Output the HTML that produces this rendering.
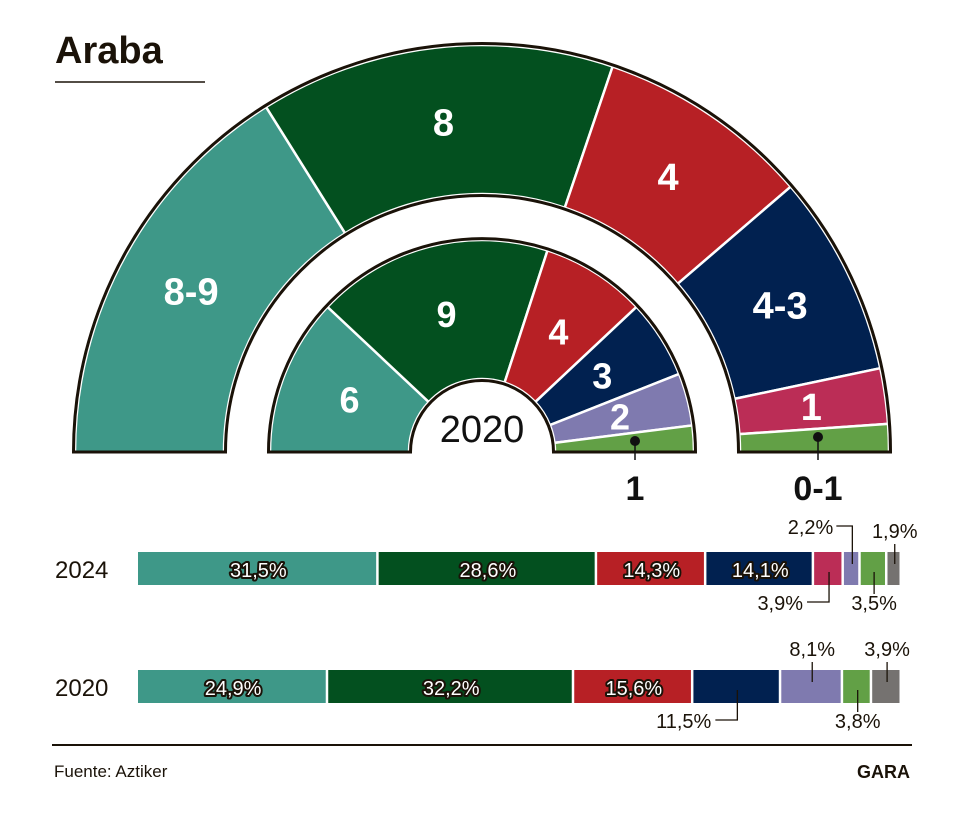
<!DOCTYPE html>
<html><head><meta charset="utf-8"><style>
body{margin:0;background:#fff;font-family:"Liberation Sans",sans-serif}
svg{display:block}
</style></head><body>
<svg id="c" width="971" height="824" viewBox="0 0 971 824">
<text x="55" y="63" font-size="38" font-weight="bold" fill="#1a1208">Araba</text>
<line x1="55" y1="82" x2="205" y2="82" stroke="#1a1208" stroke-width="1.5"/>
<g id="arcs"></g>
<g id="bars"></g>
<line x1="52" y1="745" x2="912" y2="745" stroke="#1a1208" stroke-width="2"/>
<text x="54" y="777" font-size="17" fill="#1a1208">Fuente: Aztiker</text>
<text x="910" y="778" font-size="18" font-weight="bold" text-anchor="end" fill="#1a1208">GARA</text>
</svg>
<script>
const colors=["#3e9888","#03501f","#b72025","#012150","#bb2d56","#7f7aaf","#62a046","#757270"];
const outerColors=["#3e9888","#03501f","#b72025","#012150","#bb2d56","#62a046"];
const innerColors=["#3e9888","#03501f","#b72025","#012150","#7f7aaf","#62a046"];
const outerLabels=["8-9","8","4","4-3","1",""];
const outerWeights=[8.05,7.05,4.25,4.0,1.1,0.55];
const innerLabels=["6","9","4","3","2",""];
const innerWeights=[6,9,4,3,2,1];
const years=["2024","2020"];
const pct2024=[31.5,28.6,14.3,14.1,3.9,2.2,3.5,1.9];
const pct2020=[24.9,32.2,15.6,11.5,0,8.1,3.8,3.9];
const lbl2024=["31,5%","28,6%","14,3%","14,1%","3,9%","2,2%","3,5%","1,9%"];
const lbl2020=["24,9%","32,2%","15,6%","11,5%","","8,1%","3,8%","3,9%"];
const NS="http://www.w3.org/2000/svg";
const cx=482,cy=452;
function mk(t,a,p){const e=document.createElementNS(NS,t);for(const k in a)e.setAttribute(k,a[k]);p.appendChild(e);return e;}
function pt(r,a){return [cx+r*Math.cos(a),cy-r*Math.sin(a)];}
function ring(weights,labels,cols,r0,r1,name,fs){
  const g=document.getElementById('arcs');
  const tot=weights.reduce((a,b)=>a+b,0);let a=Math.PI;
  weights.forEach((w,i)=>{
    const a2=a-w/tot*Math.PI;
    const p1=pt(r1,a),p2=pt(r1,a2),p3=pt(r0,a2),p4=pt(r0,a);
    const d=`M${p1}A${r1},${r1} 0 0 1 ${p2}L${p3}A${r0},${r0} 0 0 0 ${p4}Z`;
    const s=mk('path',{d:d,fill:cols[i],stroke:'#fff','stroke-width':2.5},g);
    
    
    if(labels[i]){const m=pt((r0+r1)/2,(a+a2)/2);
      const t=mk('text',{x:m[0],y:m[1]+fs*0.36,'font-size':fs,'font-weight':'bold',fill:'#fff','text-anchor':'middle'},g);t.textContent=labels[i];
      
      }
    a=a2;});
  const o=mk('path',{d:`M${pt(r1+1.5,Math.PI)}A${r1+1.5},${r1+1.5} 0 0 1 ${pt(r1+1.5,0)}L${pt(r0-1.5,0)}A${r0-1.5},${r0-1.5} 0 0 0 ${pt(r0-1.5,Math.PI)}Z`,fill:'none',stroke:'#1a1208','stroke-width':3},g);
  
  
}
ring(outerWeights,outerLabels,outerColors,258,407,'outer',38);
ring(innerWeights,innerLabels,innerColors,73,212,'inner',36);
(function(){const g=document.getElementById('arcs');
 const t=mk('text',{x:cx,y:cy-10,'font-size':38,fill:'#111','text-anchor':'middle'},g);t.textContent='2020';
 
 [[635,441,460,'1',635],[818,437,460,'0-1',818]].forEach((c,i)=>{
  mk('circle',{cx:c[0],cy:c[1],r:5,fill:'#111'},g);
  mk('line',{x1:c[0],y1:c[1],x2:c[0],y2:c[2],stroke:'#111','stroke-width':1.5},g);
  const l=mk('text',{x:c[4],y:500,'font-size':34,'font-weight':'bold',fill:'#111','text-anchor':'middle'},g);l.textContent=c[3];
  });
})();
function bar(vals,lbls,y,yr,callouts){
  const g=document.getElementById('bars');
  const t=mk('text',{x:55,y:y+26,'font-size':24,fill:'#1a1208'},g);t.textContent=yr;
  
  const x0=138,W=764;let x=x0;
  vals.forEach((v,i)=>{ if(!v)return;
    const w=v/100*W;
    const r=mk('rect',{x:x,y:y,width:Math.max(w-2.5,1),height:33,fill:colors[i]},g);
    
    const mx=x+w/2;
    if(v>=12 && !(callouts[i])){
      const tt=mk('text',{x:mx,y:y+25,'font-size':20,fill:'#fff',stroke:'#1a1208','stroke-width':4,'paint-order':'stroke','text-anchor':'middle','stroke-linejoin':'round'},g);tt.textContent=lbls[i];
      
    } else if(callouts[i]){
      const c=callouts[i];
      let d,tx,ty,anc;
      if(c=='up'){d=`M${mx},${y+12}V${y-8}`;tx=mx;ty=y-14;anc='middle';}
      else if(c=='upleft'){d=`M${mx},${y+12}V${y-26}H${mx-16}`;tx=mx-19;ty=y-18;anc='end';}
      else if(c=='down'){d=`M${mx},${y+20}V${y+42}`;tx=mx;ty=y+58;anc='middle';}
      else {d=`M${mx},${y+20}V${y+50}H${mx-22}`;tx=mx-26;ty=y+58;anc='end';}
      mk('path',{d:d,fill:'none',stroke:'#1a1208','stroke-width':1.3},g);
      const tt=mk('text',{x:tx,y:ty,'font-size':20,fill:'#1a1208','text-anchor':anc},g);tt.textContent=lbls[i];
      
    }
    x+=w;});
}
bar(pct2024,lbl2024,552,years[0],{4:'downleft',5:'upleft',6:'down',7:'up'});
bar(pct2020,lbl2020,670,years[1],{3:'downleft',5:'up',6:'down',7:'up'});
</script>
</body></html>
